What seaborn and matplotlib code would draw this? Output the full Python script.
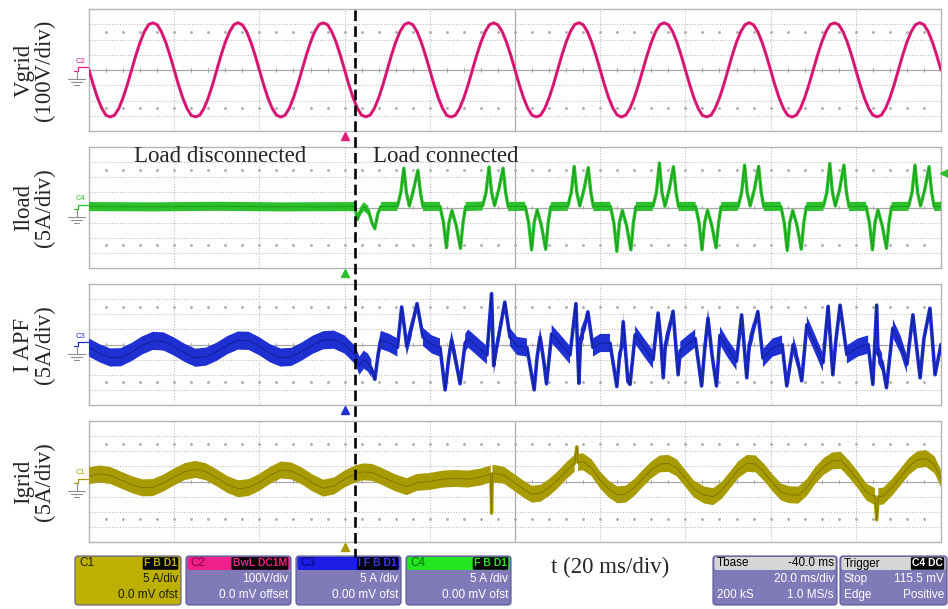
import numpy as np
import pandas as pd
import matplotlib.pyplot as plt
import seaborn as sns
from matplotlib.patches import FancyBboxPatch

sns.set_style("white")
plt.rcParams['font.family'] = ['Liberation Serif', 'DejaVu Serif']

# ── Data ─────────────────────────────────────────────────────
t_connect = 62.5      # ms, load switched in
t_trigger = 60.0      # ms, trigger marker

# Vgrid (V), 1 ms sample clock
vgrid_t = np.arange(0, 201)
vgrid_v = [
    0, -97, -183, -251, -297, -308, -296, -252, -182, -96,
    1, 96, 182, 251, 298, 309, 297, 251, 183, 97,
    0, -96, -182, -252, -298, -307, -297, -251, -183, -97,
    0, 97, 183, 250, 297, 310, 296, 252, 182, 96,
    -1, -97, -183, -251, -296, -308, -297, -252, -182, -96,
    0, 96, 182, 252, 298, 309, 297, 250, 183, 97,
    1, -96, -182, -251, -297, -307, -296, -251, -183, -97,
    0, 97, 183, 251, 297, 310, 297, 252, 182, 96,
    0, -97, -183, -252, -298, -308, -297, -251, -182, -96,
    1, 96, 182, 251, 297, 309, 296, 251, 183, 97,
    0, -96, -182, -251, -297, -307, -297, -252, -183, -97,
    0, 97, 183, 252, 298, 310, 297, 251, 182, 96,
    -1, -97, -183, -251, -296, -308, -296, -251, -182, -96,
    0, 96, 182, 251, 297, 309, 297, 252, 183, 97,
    0, -96, -182, -252, -298, -307, -297, -251, -183, -97,
    1, 97, 183, 251, 297, 310, 296, 251, 182, 96,
    0, -97, -183, -251, -297, -308, -297, -252, -182, -96,
    0, 96, 182, 252, 298, 309, 297, 251, 183, 97,
    0, -96, -182, -251, -296, -307, -296, -251, -183, -97,
    1, 97, 183, 251, 297, 310, 297, 252, 182, 96,
    0,
]

# Iload (A)
iload_t = [0, 15, 30, 45, 62.4, 63.0, 63.6, 64.5, 65.6, 66.4, 67.1, 67.8, 68.5, 72.4,
           73.2, 73.9, 74.5, 75.2, 76.2, 77.2, 77.8, 78.4, 82.4,
           83.2, 83.9, 84.5, 85.2, 86.2, 87.2, 87.8, 88.4, 92.4,
           93.2, 93.9, 94.5, 95.2, 96.2, 97.2, 97.8, 98.4, 102.4,
           103.2, 103.9, 104.5, 105.2, 106.2, 107.2, 107.8, 108.4, 112.4,
           113.2, 113.9, 114.5, 115.2, 116.2, 117.2, 117.8, 118.4, 122.4,
           123.2, 123.9, 124.5, 125.2, 126.2, 127.2, 127.8, 128.4, 132.4,
           133.2, 133.9, 134.5, 135.2, 136.2, 137.2, 137.8, 138.4, 142.4,
           143.2, 143.9, 144.5, 145.2, 146.2, 147.2, 147.8, 148.4, 152.4,
           153.2, 153.9, 154.5, 155.2, 156.2, 157.2, 157.8, 158.4, 162.4,
           163.2, 163.9, 164.5, 165.2, 166.2, 167.2, 167.8, 168.4, 172.4,
           173.2, 173.9, 174.5, 175.2, 176.2, 177.2, 177.8, 178.4, 182.4,
           183.2, 183.9, 184.5, 185.2, 186.2, 187.2, 187.8, 188.4, 192.4,
           193.2, 193.9, 194.5, 195.2, 196.2, 197.2, 197.8, 198.4, 200]
iload_v = [0.3, 0.2, 0.4, 0.2, 0.3, -4.0, -1.5, 0.3, -1.0, -5.0, -7.0, -2.0, 0.3, 0.4,
           5, 13.0, 5, 0.5, 6, 12.3, 5, 0.3, 0.4,
           -5, -13.3, -5, -1.0, -6, -13.5, -5, 0.3, 0.5,
           5, 13.4, 5, 0.6, 6, 13.0, 5, 0.3, 0.4,
           -5, -14.0, -5, -0.8, -6, -13.8, -5, 0.3, 0.4,
           5, 13.6, 5, 0.5, 6, 13.2, 5, 0.3, 0.4,
           -5, -14.5, -5, -1.0, -6, -14.0, -5, 0.3, 0.4,
           5, 14.7, 5, 0.4, 6, 13.5, 5, 0.3, 0.4,
           -5, -14.0, -5, -0.9, -6, -13.3, -5, 0.3, 0.4,
           5, 14.0, 5, 0.5, 6, 13.6, 5, 0.3, 0.4,
           -5, -14.2, -5, -1.0, -6, -13.8, -5, 0.3, 0.4,
           5, 14.5, 5, 0.5, 6, 14.0, 5, 0.3, 0.4,
           -5, -14.0, -5, -0.8, -6, -13.5, -5, 0.3, 0.4,
           5, 14.0, 5, 0.5, 6, 13.5, 5, 0.3, 0.4]

# I APF (A)
iapf_t = [0, 2.5, 5, 7.5, 10, 12.5, 15, 17.5, 20, 22.5, 25, 27.5, 30, 32.5, 35, 37.5,
          40, 42.5, 45, 47.5, 50, 52.5, 55, 57.5, 60, 62.5,
          63.5, 64.5, 65.5, 66.3, 67.1, 67.9, 68.5, 70.5, 72.4,
          73.4, 74.0, 74.6, 75.8, 77.0, 78.4, 80.5, 82.4,
          83.6, 84.4, 85.1, 86.2, 87.1, 88.3, 89.0, 91.0, 93.4,
          94.5, 95.0, 95.6, 96.6, 97.6, 98.8, 100.5, 102.8,
          104.5, 105.2, 105.9, 106.7, 107.4, 108.6, 110.8, 112.9,
          114.3, 115.0, 115.4, 116.2, 117.1, 118.3, 120.0, 122.3,
          123.9, 124.6, 125.0, 125.4, 126.5, 127.0, 128.2, 130.3, 132.4,
          133.6, 134.2, 134.8, 135.3, 136.2, 137.1, 138.3, 138.8, 140.5, 142.3,
          143.8, 144.5, 145.3, 146.3, 147.3, 148.1, 150.0, 152.0,
          153.2, 154.4, 155.0, 156.0, 157.0, 158.2, 160.5, 162.7,
          163.8, 165.3, 166.3, 167.3, 168.5, 170.5, 172.3,
          173.5, 174.6, 175.3, 176.3, 177.9, 180.5, 182.9,
          184.0, 184.9, 185.2, 186.2, 187.2, 188.7, 190.5, 192.0,
          193.4, 195.1, 196.0, 197.4, 198.6, 200.0]
iapf_v = [-1.0, -2.9, -4.3, -4.2, -2.5, -0.3, 1.2, 1.0, -0.7, -2.8, -4.4, -4.0, -2.4, -0.2, 1.3, 1.2,
          -0.6, -2.9, -4.3, -4.1, -2.3, -0.1, 1.4, 1.6, 0.0, -3.5,
          -7.0, -5.0, -6.0, -8.0, -11.5, -3.0, 1.5, 0.5, -1.0,
          12.4, 6.0, -0.7, 6.0, 13.5, 2.5, 0.0, -1.0,
          -15.0, -5.0, 1.5, -6.0, -13.0, 0.5, 2.0, -0.5, -3.5,
          16.8, -7.0, -1.5, 6.0, 14.0, 2.5, -0.5, -1.0,
          -15.0, -4.0, 2.5, -5.0, -13.0, 3.5, 0.0, -3.5,
          13.5, -12.8, 2.0, 5.0, 10.8, -1.0, 0.5, 0.5,
          -13.9, -3.0, -1.0, 7.5, -12.2, -13.2, 3.2, -1.0, -5.0,
          10.4, 2.0, -11.0, 0.0, 5.0, 11.0, -10.0, -2.0, 0.0, 2.0,
          -13.7, -2.0, 8.7, -4.0, -13.7, 3.0, -1.5, -5.5,
          9.8, -11.0, 0.0, 5.0, 10.9, -4.5, -1.0, 0.0,
          -13.7, 0.0, -5.0, -12.0, 6.5, 0.0, -6.0,
          12.6, -10.0, 1.0, 13.0, -3.3, -1.0, 0.0,
          -13.2, 13.0, -3.0, -6.0, -14.3, 5.4, 0.0, -6.6,
          9.8, -11.0, 2.0, 12.0, -10.0, 0.0]

# Igrid (A)
igrid_t = [0, 2.5, 5, 7.5, 10, 12.5, 15, 17.5, 20, 22.5, 25, 27.5, 30, 32.5, 35, 37.5,
           40, 42.5, 45, 47.5, 50, 52.5, 55, 57.5, 60, 62.5,
           64.3, 66.5, 69, 72, 74.6, 77, 80, 83, 86, 89, 92, 94.3, 94.5, 94.7, 95, 97.5,
           100, 102.5, 104, 106, 108, 110, 112, 114, 114.5, 114.8, 116, 118, 120, 122,
           124, 126, 128, 130, 132, 134, 136, 138, 140, 142, 144.5, 146.5, 148.5, 150.5,
           152.5, 154.5, 156.5, 158.5, 160.5, 162.5, 164.5, 166.5, 168.5, 170.5, 172.5,
           174.5, 176.5, 178.5, 180.5, 182.5, 184.5, 184.9, 185.3, 186.5, 188.5, 190.5,
           192.5, 194.5, 196.5, 198.5, 200]
igrid_v = [1.9, 2.5, 2.0, 0.5, -1.0, -2.1, -2.0, -0.5, 1.5, 3.3, 4.0, 3.2, 1.2, -1.0, -2.4, -2.0,
           -0.3, 2.0, 3.8, 3.5, 1.8, -0.5, -2.2, -1.5, 0.8, 2.5,
           3.2, 3.0, 1.5, -0.5, -1.7, -0.3, 0.0, 0.8, 1.0, 0.8, 1.5, 2.5, -10.5, 2.5, 2.7, 2.0,
           -0.5, -3.0, -4.2, -3.9, -2.0, 0.5, 3.5, 6.0, 11.5, 6.3, 6.5, 4.5, 0.5, -2.5,
           -4.4, -4.2, -2.0, 1.0, 3.8, 5.8, 6.0, 4.5, 1.0, -2.5, -4.5, -5.0, -3.0, 0.5,
           4.0, 6.0, 5.8, 3.0, -0.5, -3.5, -4.4, -4.5, -2.0, 2.0, 5.0,
           6.8, 7.0, 4.0, 0.5, -3.5, -5.0, -12.7, -5.0, -4.8, -2.0, 1.5,
           5.0, 7.2, 7.6, 5.5, 1.0]

# ── Figure geometry (pixels of the 948 x 609 screen) ─────────
W, H = 948, 609
X0, X1 = 89, 941
rows = [(9, 131), (147, 268), (284, 405), (421, 542)]

def rect(top, bot):
    return [X0 / W, 1 - bot / H, (X1 - X0) / W, (bot - top) / H]

def t2px(t):
    return X0 + t / 200 * (X1 - X0)

fig = plt.figure(figsize=(9.48, 6.09), dpi=100, facecolor='white')

grid_col = '#BDBDBD'
centre_col = '#A8A8A8'

def scope_grid(ax, ymax):
    div = ymax / 4
    ax.set_xlim(0, 200)
    ax.set_ylim(-ymax, ymax)
    ax.set_xticks([])
    ax.set_yticks([])
    for s in ax.spines.values():
        s.set_color('#B4B4B4')
        s.set_linewidth(1.0)
    for k in range(1, 10):
        if k != 5:
            ax.axvline(k * 20, color=grid_col, lw=0.8, ls=(0, (1, 1.5)), zorder=1)
    for k in [-3, -2, -1, 1, 2, 3]:
        ax.axhline(k * div, color=grid_col, lw=0.8, ls=(0, (1, 1.5)), zorder=1)
    ax.axhline(0, color=centre_col, lw=0.9, zorder=1)
    ax.axvline(100, color=centre_col, lw=0.9, zorder=1)
    xs = np.arange(4, 200, 4)
    for x in xs:
        ax.plot([x, x], [-0.13 * div, 0.13 * div], color=centre_col, lw=0.7, zorder=1)
    for yy in [2.5, -2.5]:
        ax.plot(xs, [yy * div] * len(xs), ls='none', marker='o', ms=1.1,
                color='#B0B0B0', zorder=1)

def trace(ax, t, v, band_col, edge_col, hw, thr, lw=2.2):
    df = pd.DataFrame({'t': t, 'v': v})
    if hw > 0:
        ax.fill_between(df['t'], df['v'] - hw, df['v'] + hw,
                        where=(df['v'].abs() < thr).values,
                        color=band_col, lw=0, zorder=3)
    sns.lineplot(data=df, x='t', y='v', ax=ax, color=band_col, lw=lw,
                 sort=False, estimator=None, zorder=4)
    ax.plot(df['t'], df['v'], color=edge_col, lw=0.6, alpha=0.75, zorder=5)
    ax.set_xlabel('')
    ax.set_ylabel('')

# ── Panel 1 : Vgrid ──────────────────────────────────────────
ax1 = fig.add_axes(rect(*rows[0]))
scope_grid(ax1, 400)
trace(ax1, vgrid_t, vgrid_v, '#E41C7C', '#B0105A', 0, 0, lw=2.2)

# ── Panel 2 : Iload ──────────────────────────────────────────
ax2 = fig.add_axes(rect(*rows[1]))
scope_grid(ax2, 20)
trace(ax2, iload_t, iload_v, '#2CC02C', '#128A12', 1.5, 2.0, lw=2.4)

# ── Panel 3 : I APF ──────────────────────────────────────────
ax3 = fig.add_axes(rect(*rows[2]))
scope_grid(ax3, 20)
trace(ax3, iapf_t, iapf_v, '#1F30D2', '#0A1470', 3.0, 9.0, lw=2.6)

# ── Panel 4 : Igrid ──────────────────────────────────────────
ax4 = fig.add_axes(rect(*rows[3]))
scope_grid(ax4, 20)
trace(ax4, igrid_t, igrid_v, '#A89B00', '#6E6400', 2.8, 9.0, lw=2.4)

# ── Overlay in screen pixels ─────────────────────────────────
ov = fig.add_axes([0, 0, 1, 1])
ov.set_xlim(0, W)
ov.set_ylim(H, 0)
ov.axis('off')

# connection instant
xc = t2px(t_connect)
ov.plot([xc, xc], [10, 557], color='black', lw=1.9, dashes=(4, 2), zorder=10)

labels = ["Vgrid\n(100V/div)", "Iload\n(5A/div)", "I APF\n(5A/div)", "Igrid\n(5A/div)"]
ch_cols = ['#E41C7C', '#2CC02C', '#1F30D2', '#A89B00']
ch_names = ['C2', 'C4', 'C3', 'C1']
xt = t2px(t_trigger)
for (top, bot), lab, col, name in zip(rows, labels, ch_cols, ch_names):
    yc = (top + bot) / 2
    ov.text(34, yc, lab, rotation=90, ha='center', va='center', multialignment='center',
            fontsize=16.5, linespacing=0.95)
    # channel pointer and ground symbol
    ov.plot([74, 78, 78, 88], [yc + 1, yc + 1, yc - 3, yc - 3], color=col, lw=0.9)
    ov.text(76, yc - 5, name, color=col, fontsize=5.5, family='Liberation Sans', va='bottom')
    ov.plot([77, 77], [yc + 1, yc + 9], color='#8C8C8C', lw=0.8)
    ov.plot([68, 85], [yc + 9, yc + 9], color='#8C8C8C', lw=0.8)
    ov.plot([71, 82], [yc + 12, yc + 12], color='#8C8C8C', lw=0.8)
    ov.plot([74, 79], [yc + 15, yc + 15], color='#8C8C8C', lw=0.8)
    # trigger-time marker under each trace
    ov.plot(xt, bot + 5, marker='^', ms=6, color=col, ls='none', clip_on=False)

ov.plot(944, 173, marker='<', ms=6, color='#2CC02C', ls='none')

ov.text(220, 156, "Load disconnected", ha='center', va='center', fontsize=16.5)
ov.text(446, 156, "Load connected", ha='center', va='center', fontsize=16.5)
ov.text(610, 567, "t (20 ms/div)", ha='center', va='center', fontsize=16.5)

# ── Scope info boxes ─────────────────────────────────────────
body = '#807BB8'
sans = 'Liberation Sans'

def info_box(x0, x1, head, title, title_col, pills, pill_col, rows_txt,
             body_col=body, txt_col='white', head_right=None):
    ov.add_patch(FancyBboxPatch((x0, 556), x1 - x0, 49,
                                boxstyle='round,pad=0,rounding_size=3',
                                fc=body_col, ec='#5A5690', lw=0.8))
    ov.add_patch(FancyBboxPatch((x0 + 1.5, 557), x1 - x0 - 3, 13,
                                boxstyle='round,pad=0,rounding_size=2',
                                fc=head, ec='none'))
    ov.text(x0 + 4, 563.5, title, color=title_col, fontsize=8.5, family=sans,
            va='center', ha='left')
    if pills:
        ov.text(x1 - 4, 563.5, pills, color=pill_col, fontsize=7.5, family=sans,
                fontweight='bold', va='center', ha='right',
                bbox=dict(boxstyle='round,pad=0.12', fc='black', ec='none'))
    if head_right:
        ov.text(x1 - 3, 563.5, head_right, color='black', fontsize=8.5, family=sans,
                va='center', ha='right')
    for (left, right), y in zip(rows_txt, [579, 595]):
        if left:
            ov.text(x0 + 4, y, left, color=txt_col, fontsize=8.5, family=sans,
                    va='center', ha='left')
        ov.text(x1 - 3, y, right, color=txt_col, fontsize=8.5, family=sans,
                va='center', ha='right')

info_box(75, 181, '#BDB000', 'C1', '#222200', 'F B D1', '#BDB000',
         [('', '5 A/div'), ('', '0.0 mV ofst')], body_col='#BDB000', txt_col='#1A1A00')
info_box(186, 291, '#F0208A', 'C2', '#8A0048', 'BwL DC1M', '#F0208A',
         [('', '100V/div'), ('', '0.0 mV offset')])
info_box(296, 401, '#1C1CE6', 'C3', '#0A0A70', 'I F B D1', '#3A3AF0',
         [('', '5 A /div'), ('', '0.00 mV ofst')])
info_box(406, 511, '#22E622', 'C4', '#0A6A0A', 'F B D1', '#22E622',
         [('', '5 A /div'), ('', '0.00 mV ofst')])
info_box(713, 837, '#D6D6D6', 'Tbase', 'black', None, None,
         [('', '20.0 ms/div'), ('200 kS', '1.0 MS/s')], head_right='-40.0 ms')
info_box(840, 947, '#D6D6D6', 'Trigger', 'black', 'C4 DC', 'white',
         [('Stop', '115.5 mV'), ('Edge', 'Positive')])

fig.savefig('out.png', dpi=100, facecolor='white')
